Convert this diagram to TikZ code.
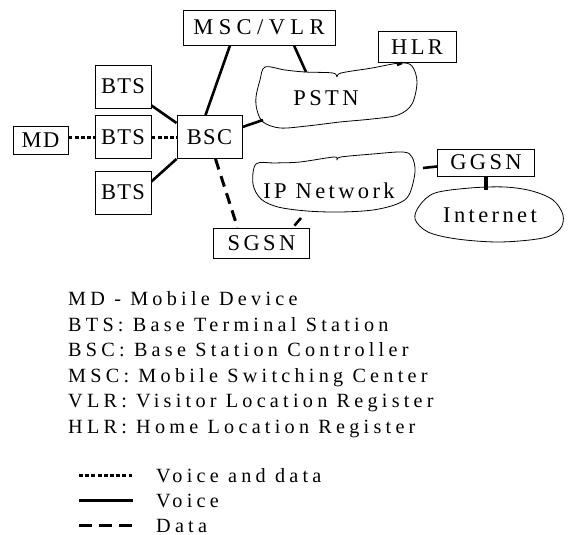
\documentclass[tikz,border=0pt]{standalone}
\usepackage{fontspec}
\setmainfont{Liberation Serif}
% letter-spaced variants of the same face
\newfontfamily\labelfont[LetterSpace=15]{Liberation Serif}
\newfontfamily\closefont[LetterSpace=6]{Liberation Serif}
\newfontfamily\widefont[LetterSpace=24]{Liberation Serif}
\newfontfamily\keyfont[LetterSpace=21]{Liberation Serif}
\begin{document}
\begin{tikzpicture}[x=1pt,y=-1pt,
  unit/.style={draw, line width=0.9pt, inner sep=0pt,
    font=\labelfont\fontsize{22.5}{24}\selectfont},
  close/.style={font=\closefont\fontsize{22.5}{24}\selectfont},
  wide/.style={font=\widefont\fontsize{22.5}{24}\selectfont},
  cloudtext/.style={anchor=base, inner sep=0pt,
    font=\labelfont\fontsize{22.5}{24}\selectfont},
  keytext/.style={anchor=base west, inner sep=0pt,
    font=\keyfont\fontsize{20.2}{22}\selectfont},
  cloudline/.style={line width=0.8pt, line join=round},
  voice/.style={line width=2.6pt},
  both/.style={line width=3pt, dash pattern=on 4pt off 2.2pt},
  datalink/.style={line width=3pt, dash pattern=on 11pt off 7pt}]
\useasboundingbox (0,0) rectangle (570,535);

% network elements
\node[unit, wide, minimum width=152pt, minimum height=35pt] (msc) at (259,27.5) {MSC/VLR};
\node[unit, minimum width=78pt, minimum height=31pt] (hlr) at (417,47) {HLR};
\node[unit, close, minimum width=56pt, minimum height=43pt] (btsa) at (123,86.5) {BTS};
\node[unit, close, minimum width=56pt, minimum height=43pt] (btsb) at (123,137) {BTS};
\node[unit, close, minimum width=56pt, minimum height=43pt] (btsc) at (123,192.5) {BTS};
\node[unit, close, minimum width=55pt, minimum height=28pt] (md) at (40.5,140) {MD};
\node[unit, close, minimum width=65pt, minimum height=43pt] (bsc) at (209.5,137) {BSC};
\node[unit, minimum width=96pt, minimum height=30pt] (sgsn) at (261.5,243) {SGSN};
\node[unit, minimum width=97pt, minimum height=27pt] (ggsn) at (486,162.5) {GGSN};

% hand-drawn network clouds
\draw[cloudline] plot[smooth cycle, tension=0.55] coordinates {
  (265,67) (285,70) (305,72) (333,73) (337,77) (341,73) (372,68) (400,63)
  (412,66) (417,82) (412,104) (398,115) (372,119) (340,122) (307,126)
  (280,128) (263,122) (257,110) (256,97) (260,80)};
\node[cloudtext] (pstn) at (326,105) {PSTN};

\draw[cloudline] plot[smooth cycle, tension=0.55] coordinates {
  (256,164) (275,163) (300,162) (334,157) (337,160) (341,157) (373,154)
  (403,152) (412,157) (415,172) (409,195) (397,204) (373,210) (340,212)
  (307,211) (278,207) (261,199) (253,184)};
\node[cloudtext] (ipnet) at (329,198.5) {IP Network};

\draw[cloudline] plot[smooth cycle, tension=0.55] coordinates {
  (435,193) (470,188) (505,187) (532,191) (553,200) (563,215) (560,229)
  (543,238) (500,242) (457,239) (428,232) (415,219) (420,205)};
\node[cloudtext] (inet) at (490,222) {Internet};

% attachment points on the clouds
\coordinate (pstnA) at (306,72);
\coordinate (pstnB) at (397,65);
\coordinate (pstnC) at (263,120);
\coordinate (ipA) at (301,218);
\coordinate (ipB) at (423,168);
\coordinate (inetA) at (486,190);

% links
\draw[voice] ([xshift=-29pt]msc.south) -- ([xshift=-4pt]bsc.north);
\draw[voice] ([xshift=35pt]msc.south) -- (pstnA);
\draw[voice] ([xshift=-15pt]hlr.south) -- (pstnB);
\draw[voice] ([yshift=10pt]bsc.east) -- (pstnC);
\draw[voice] ([yshift=-19pt]btsa.east) -- ([yshift=14pt]bsc.west);
\draw[voice] ([yshift=11pt]btsc.east) -- (bsc.south west);
\draw[both] ([yshift=3pt]md.east) -- (btsb.west);
\draw[both] (btsb.east) -- (bsc.west);
\draw[datalink] ([xshift=6pt]bsc.south) -- ([xshift=-24pt]sgsn.north);
\draw[voice] (ipA) -- ([xshift=33pt,yshift=2pt]sgsn.north);
\draw[voice] (ipB) -- ([yshift=-4pt]ggsn.west);
\draw[voice, line width=4pt] (ggsn.south) -- (inetA);

% abbreviations
\node[keytext] (k1) at (68,305.5) {MD - Mobile Device};
\node[keytext] (k2) at (68,331) {BTS: Base Terminal Station};
\node[keytext] (k3) at (68,356.5) {BSC: Base Station Controller};
\node[keytext] (k4) at (68,382) {MSC: Mobile Switching Center};
\node[keytext] (k5) at (68,407.5) {VLR: Visitor Location Register};
\node[keytext] (k6) at (68,433) {HLR: Home Location Register};

% line styles
\coordinate (s1a) at (79,475);   \coordinate (s1b) at (132,475);
\coordinate (s2a) at (79,500.5); \coordinate (s2b) at (133,500.5);
\coordinate (s3a) at (79,525.5); \coordinate (s3b) at (133,525.5);
\draw[both] (s1a) -- (s1b);
\draw[voice, line width=3pt] (s2a) -- (s2b);
\draw[datalink, dash pattern=on 13pt off 7pt] (s3a) -- (s3b);
\node[keytext] (v1) at (156,482) {Voice and data};
\node[keytext] (v2) at (156,507) {Voice};
\node[keytext] (v3) at (156,532) {Data};
\end{tikzpicture}
\end{document}
